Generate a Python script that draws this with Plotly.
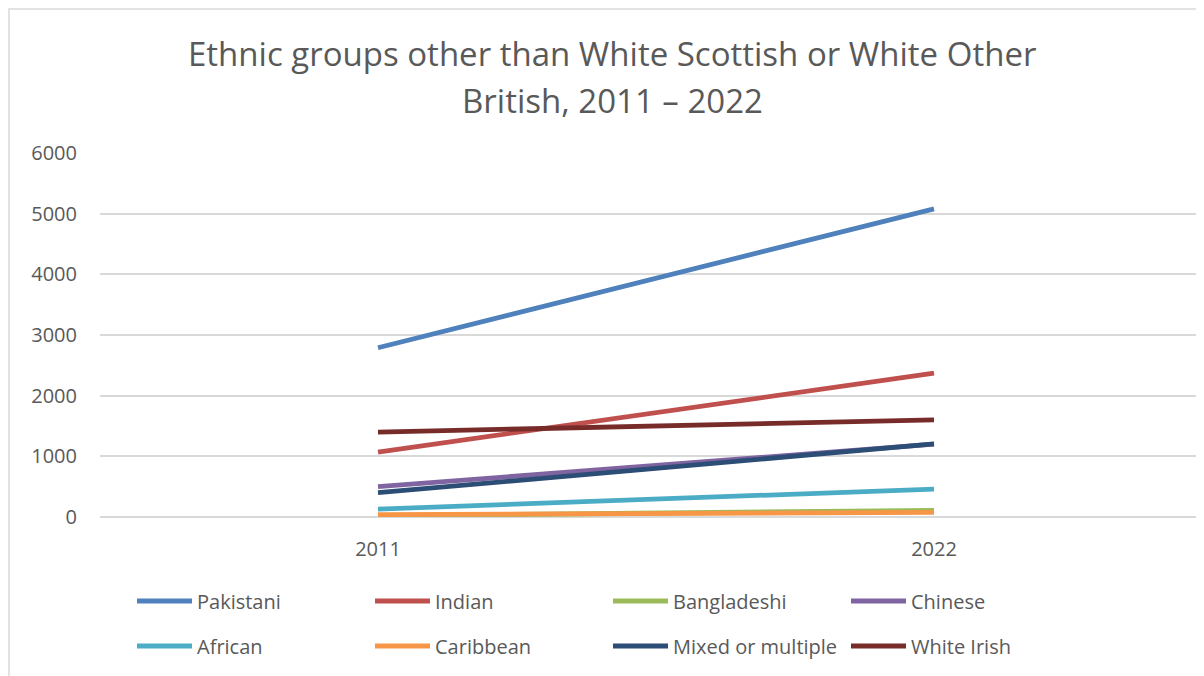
import plotly.graph_objects as go

years = ["2011", "2022"]
series_names = ["Pakistani", "Indian", "Bangladeshi", "Chinese",
                "African", "Caribbean", "Mixed or multiple", "White Irish"]
pakistani = [2790, 5080]
indian = [1070, 2370]
bangladeshi = [20, 110]
chinese = [500, 1200]
african = [130, 460]
caribbean = [40, 75]
mixed = [400, 1205]
white_irish = [1400, 1600]
values = [pakistani, indian, bangladeshi, chinese, african, caribbean, mixed, white_irish]
colors = ["#4F81BD", "#C0504D", "#9BBB59", "#8064A2",
          "#4BACC6", "#F79646", "#2C4D75", "#772C2A"]
y_ticks = [0, 1000, 2000, 3000, 4000, 5000, 6000]
title_lines = ["Ethnic groups other than White Scottish or White Other",
               "British, 2011 – 2022"]

FONT = "Open Sans"
GREY = "#595959"
OFF = 8  # page body margin

fig = go.Figure()
for i, (name, vals, col) in enumerate(zip(series_names, values, colors)):
    fig.add_trace(go.Scatter(
        x=years, y=vals, name=name, mode="lines",
        line=dict(color=col, width=4.8),
        legend="legend" if i < 4 else "legend2",
    ))

W, H = 1204, 676
# plot area in screen pixels: x 100..1204, y 153..517
L = 100 - OFF
T = 153 - OFF
R = 0
B = H - (517 - OFF)
pw, ph = W - L - R, H - T - B

def px_x(sx):
    return (sx - OFF - L) / pw

def px_y(sy):
    return (H - B - (sy - OFF)) / ph

legend_common = dict(
    orientation="h", xref="container", yref="container",
    x=(132 - OFF) / W, xanchor="left", yanchor="middle",
    entrywidth=168, entrywidthmode="pixels", itemwidth=55,
    font=dict(family=FONT, size=20, color=GREY),
    bgcolor="rgba(0,0,0,0)", traceorder="normal",
)

fig.update_layout(
    width=W, height=H,
    margin=dict(l=L, r=R, t=T, b=B, autoexpand=False),
    paper_bgcolor="white", plot_bgcolor="white",
    showlegend=True,
    legend=dict(legend_common, y=1 - (601 - OFF) / H),
    legend2=dict(legend_common, y=1 - (646 - OFF) / H),
    xaxis=dict(
        type="category", range=[-0.5, 1.5], showgrid=False, zeroline=False,
        showline=False, ticks="", ticklabelstandoff=18,
        tickfont=dict(family=FONT, size=20, color=GREY),
    ),
    yaxis=dict(
        range=[0, 6000], tickvals=y_ticks, showgrid=True,
        gridcolor="#D9D9D9", gridwidth=1.5, zeroline=True,
        zerolinecolor="#D9D9D9", zerolinewidth=1.5, showline=False,
        ticks="", ticklabelstandoff=22,
        tickfont=dict(family=FONT, size=20, color=GREY),
    ),
    shapes=[dict(
        type="rect", xref="paper", yref="paper",
        x0=px_x(OFF + 1), x1=px_x(W + 30), y0=px_y(H + 30), y1=px_y(OFF + 1),
        line=dict(color="#D9D9D9", width=1.5), fillcolor="rgba(0,0,0,0)",
        layer="below",
    )],
)

for txt, yc in zip(title_lines, [53, 100]):
    fig.add_annotation(
        text=txt, xref="paper", yref="paper",
        x=px_x(612), y=px_y(yc), xanchor="center", yanchor="middle",
        showarrow=False, font=dict(family=FONT, size=33, color=GREY),
    )

fig.write_html("out.html")
